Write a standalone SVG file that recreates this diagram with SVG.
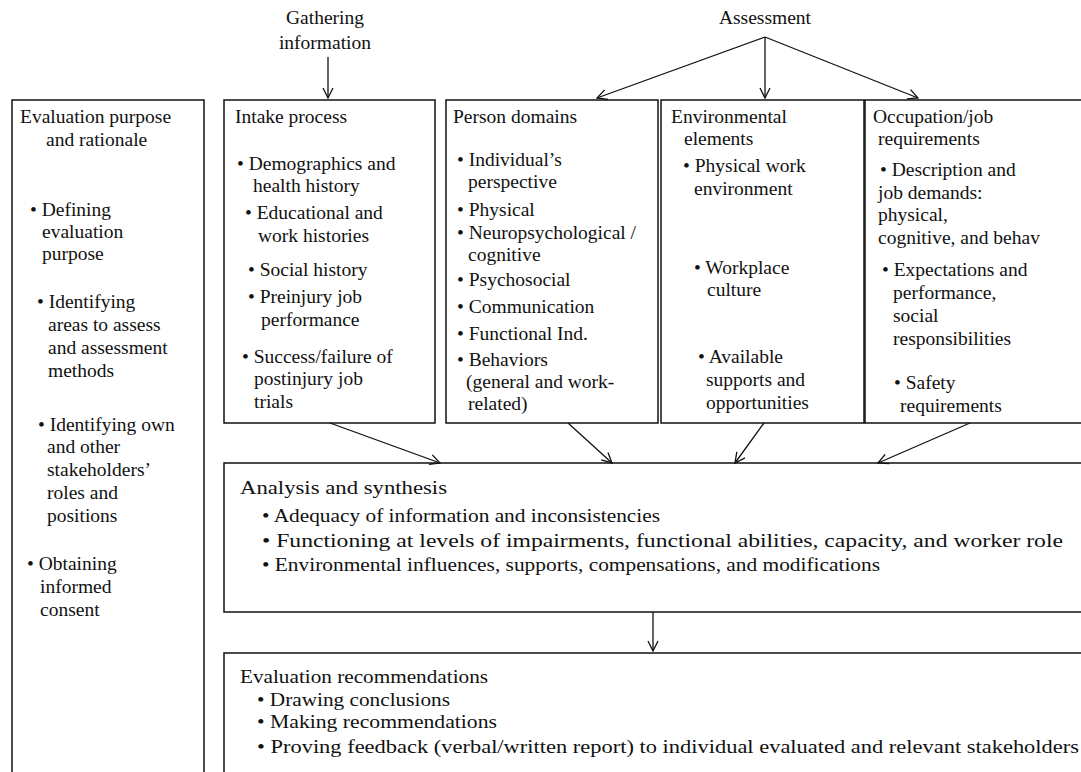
<svg xmlns="http://www.w3.org/2000/svg" width="1081" height="772" viewBox="0 0 1081 772">
<defs>
<marker id="arr" viewBox="0 0 12 12" refX="11" refY="6" markerWidth="12" markerHeight="12" markerUnits="userSpaceOnUse" orient="auto">
<path d="M1,1 L11,6 L1,11" fill="none" stroke="#111" stroke-width="1.3"/>
</marker>
<style>
text{font-family:"Liberation Serif","Times New Roman",serif;fill:#111;font-size:19.5px}
.box{fill:#fff;stroke:#111;stroke-width:1.5}
.con{stroke:#111;stroke-width:1.3;fill:none;marker-end:url(#arr)}
.c{font-size:19.5px}
</style>
</defs>
<rect width="1081" height="772" fill="#fff"/>

<g id="labels">
<text x="325" y="24" text-anchor="middle">Gathering</text>
<text x="325" y="49" text-anchor="middle">information</text>
<text x="765" y="24" text-anchor="middle">Assessment</text>
</g>

<g id="purpose">
<path class="box" d="M12,780 V100 H204 V780"/>
<text x="20" y="123">Evaluation purpose</text>
<text x="46" y="146">and rationale</text>
<text x="30" y="216">• Defining</text>
<text x="42" y="238">evaluation</text>
<text x="42" y="260">purpose</text>
<text x="37" y="308">• Identifying</text>
<text x="48" y="331">areas to assess</text>
<text x="48" y="354">and assessment</text>
<text x="48" y="377">methods</text>
<text x="38" y="431">• Identifying own</text>
<text x="47" y="453">and other</text>
<text x="47" y="476">stakeholders’</text>
<text x="47" y="499">roles and</text>
<text x="47" y="522">positions</text>
<text x="27" y="570">• Obtaining</text>
<text x="40" y="593">informed</text>
<text x="40" y="616">consent</text>
</g>

<g id="intake">
<rect class="box" x="224" y="100" width="211" height="323"/>
<text x="235" y="123">Intake process</text>
<text x="237" y="170">• Demographics and</text>
<text x="253" y="192">health history</text>
<text x="245" y="219">• Educational and</text>
<text x="258" y="242">work histories</text>
<text x="248" y="276">• Social history</text>
<text x="248" y="303">• Preinjury job</text>
<text x="261" y="326">performance</text>
<text x="242" y="363">• Success/failure of</text>
<text x="254" y="385">postinjury job</text>
<text x="254" y="408">trials</text>
</g>

<g id="person">
<rect class="box" x="446" y="100" width="212" height="323"/>
<text x="453" y="123">Person domains</text>
<text x="457" y="166">• Individual’s</text>
<text x="468" y="188">perspective</text>
<text x="457" y="216">• Physical</text>
<text x="457" y="239">• Neuropsychological /</text>
<text x="468" y="261">cognitive</text>
<text x="457" y="286">• Psychosocial</text>
<text x="457" y="313">• Communication</text>
<text x="457" y="340">• Functional Ind.</text>
<text x="457" y="366">• Behaviors</text>
<text x="466" y="388">(general and work-</text>
<text x="468" y="410">related)</text>
</g>

<g id="environment">
<rect class="box" x="661" y="100" width="203" height="323"/>
<text x="671" y="123">Environmental</text>
<text x="684" y="145">elements</text>
<text x="683" y="172">• Physical work</text>
<text x="694" y="195">environment</text>
<text x="694" y="274">• Workplace</text>
<text x="707" y="296">culture</text>
<text x="698" y="363">• Available</text>
<text x="706" y="386">supports and</text>
<text x="706" y="409">opportunities</text>
</g>

<g id="occupation">
<path class="box" d="M1090,100 H865 V423 H1090"/>
<text x="873" y="123">Occupation/job</text>
<text x="878" y="145">requirements</text>
<text x="880" y="176">• Description and</text>
<text x="878" y="199">job demands:</text>
<text x="878" y="221">physical,</text>
<text x="878" y="244">cognitive, and behav</text>
<text x="882" y="276">• Expectations and</text>
<text x="893" y="299">performance,</text>
<text x="893" y="322">social</text>
<text x="893" y="345">responsibilities</text>
<text x="894" y="389">• Safety</text>
<text x="900" y="412">requirements</text>
</g>

<g id="analysis">
<path class="box" d="M1090,463 H224 V612 H1090"/>
<text class="c" x="240" y="494" textLength="207" lengthAdjust="spacingAndGlyphs">Analysis and synthesis</text>
<text class="c" x="262" y="522" textLength="398" lengthAdjust="spacingAndGlyphs">• Adequacy of information and inconsistencies</text>
<text class="c" x="262" y="547" textLength="801" lengthAdjust="spacingAndGlyphs">• Functioning at levels of impairments, functional abilities, capacity, and worker role</text>
<text class="c" x="262" y="571" textLength="618" lengthAdjust="spacingAndGlyphs">• Environmental influences, supports, compensations, and modifications</text>
</g>

<g id="recommendations">
<path class="box" d="M224,780 V653 H1090"/>
<text class="c" x="240" y="683" textLength="248" lengthAdjust="spacingAndGlyphs">Evaluation recommendations</text>
<text class="c" x="257" y="706" textLength="193" lengthAdjust="spacingAndGlyphs">• Drawing conclusions</text>
<text class="c" x="257" y="728" textLength="240" lengthAdjust="spacingAndGlyphs">• Making recommendations</text>
<text class="c" x="257" y="753" textLength="822" lengthAdjust="spacingAndGlyphs">• Proving feedback (verbal/written report) to individual evaluated and relevant stakeholders</text>
</g>

<g id="connectors">
<line class="con" x1="328" y1="57" x2="328" y2="98"/>
<line class="con" x1="765" y1="37" x2="597" y2="98"/>
<line class="con" x1="765" y1="37" x2="765" y2="98"/>
<line class="con" x1="765" y1="37" x2="918" y2="98"/>
<line class="con" x1="330" y1="423" x2="440" y2="463"/>
<line class="con" x1="568" y1="423" x2="612" y2="463"/>
<line class="con" x1="764" y1="423" x2="735" y2="463"/>
<line class="con" x1="970" y1="423" x2="878" y2="463"/>
<line class="con" x1="653" y1="612" x2="653" y2="651"/>
</g>
</svg>
